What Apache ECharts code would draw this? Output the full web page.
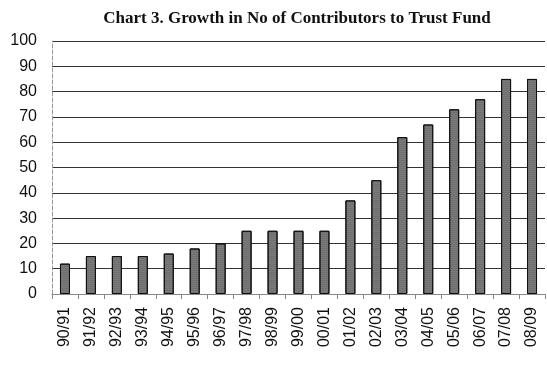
<!DOCTYPE html>
<html>
<head>
<meta charset="utf-8">
<script src="https://cdn.jsdelivr.net/npm/echarts@6/dist/echarts.min.js"></script>
<style>
  html, body { margin: 0; padding: 0; background: #fff; }
  #chart { width: 547px; height: 373px; }
</style>
</head>
<body>
<div id="chart"></div>
<script>
// Financial years and number of contributors to the trust fund
const years = ['90/91','91/92','92/93','93/94','94/95','95/96','96/97','97/98','98/99','99/00',
               '00/01','01/02','02/03','03/04','04/05','05/06','06/07','07/08','08/09'];
const contributors = [12, 15, 15, 15, 16, 18, 20, 25, 25, 25, 25, 37, 45, 62, 67, 73, 77, 85, 85];
const yTicks = { min: 0, max: 100, step: 10 };

const chart = echarts.init(document.getElementById('chart'));
chart.setOption({
  animation: false,
  title: {
    text: 'Chart 3. Growth in No of Contributors to Trust Fund',
    left: 292, top: 5, textAlign: 'center',
    textStyle: { fontFamily: 'Liberation Serif', fontWeight: 'bold', fontSize: 17, color: '#111' }
  },
  grid: { left: 52, right: 2, top: 41, bottom: 79 },
  xAxis: {
    type: 'category',
    data: years,
    axisLine: { lineStyle: { color: '#888', width: 1 } },
    axisTick: { show: true, lineStyle: { color: '#888' } },
    axisLabel: { rotate: 90, color: '#111', fontFamily: 'Liberation Sans', fontSize: 16, margin: 13 }
  },
  yAxis: {
    type: 'value',
    min: yTicks.min, max: yTicks.max, interval: yTicks.step,
    axisLine: { show: true, lineStyle: { color: '#999', type: 'dashed', width: 1 } },
    axisTick: { show: false },
    splitLine: { lineStyle: { color: '#333', width: 1 } },
    axisLabel: { color: '#111', fontFamily: 'Liberation Sans', fontSize: 16, margin: 15 }
  },
  series: [{
    type: 'bar',
    data: contributors,
    barWidth: 10,
    itemStyle: {
      color: '#7a7a7a',
      borderColor: '#111',
      borderWidth: 1,
      decal: { symbol: 'rect', symbolSize: 0.5, dashArrayX: [1, 0], dashArrayY: [1, 1], rotation: 0, color: 'rgba(0,0,0,0.35)' }
    }
  }]
});
</script>
</body>
</html>
